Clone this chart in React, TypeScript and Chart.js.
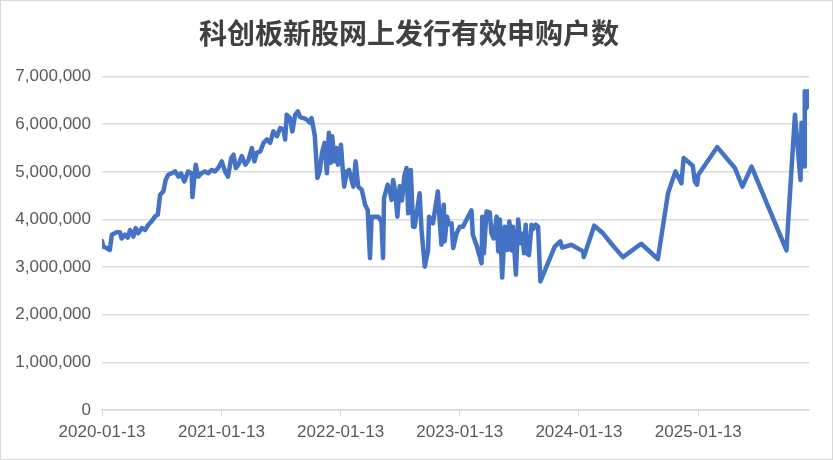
import React, { useEffect, useRef } from "react";
import { Chart, registerables } from "chart.js";

Chart.register(...registerables);

const TITLE = "科创板新股网上发行有效申购户数";

const DATES: string[] = [
  "2020-01-13","2020-01-17","2020-01-27","2020-02-06","2020-02-12","2020-02-27","2020-03-08","2020-03-13","2020-03-23","2020-04-01",
  "2020-04-08","2020-04-18","2020-04-25","2020-05-03","2020-05-14","2020-05-24","2020-06-03","2020-06-13","2020-06-23","2020-07-02",
  "2020-07-06","2020-07-09","2020-07-19","2020-07-26","2020-08-03","2020-08-13","2020-08-24","2020-09-03","2020-09-11","2020-09-21",
  "2020-10-03","2020-10-14","2020-10-16","2020-10-26","2020-11-03","2020-11-13","2020-11-23","2020-12-03","2020-12-14","2020-12-24",
  "2021-01-03","2021-01-14","2021-01-24","2021-02-02","2021-02-12","2021-02-19","2021-02-26","2021-03-06","2021-03-16","2021-03-27",
  "2021-04-06","2021-04-16","2021-04-24","2021-05-01","2021-05-12","2021-05-22","2021-06-01","2021-06-11","2021-06-21","2021-07-02",
  "2021-07-12","2021-07-22","2021-07-27","2021-08-01","2021-08-11","2021-08-18","2021-08-27","2021-09-04","2021-09-11","2021-09-21",
  "2021-10-01","2021-10-11","2021-10-16","2021-10-21","2021-10-26","2021-11-03","2021-11-10","2021-11-17","2021-11-25","2021-12-02",
  "2021-12-08","2021-12-14","2021-12-18","2021-12-26","2021-12-31","2022-01-05","2022-01-14","2022-01-19","2022-01-24","2022-02-01",
  "2022-02-08","2022-02-14","2022-02-21","2022-02-28","2022-03-08","2022-03-19","2022-03-29","2022-04-06","2022-04-13","2022-04-18",
  "2022-04-23","2022-05-08","2022-05-18","2022-05-23","2022-05-26","2022-06-06","2022-06-13","2022-06-18","2022-06-23","2022-06-30",
  "2022-07-06","2022-07-13","2022-07-20","2022-07-27","2022-08-03","2022-08-08","2022-08-16","2022-08-23","2022-08-28","2022-09-12",
  "2022-09-18","2022-09-28","2022-10-08","2022-10-11","2022-10-18","2022-10-23","2022-11-07","2022-11-13","2022-11-18","2022-11-25",
  "2022-11-28","2022-12-05","2022-12-11","2022-12-19","2022-12-24","2023-01-03","2023-01-13","2023-01-23","2023-02-03","2023-02-18",
  "2023-02-22","2023-03-05","2023-03-21","2023-03-23","2023-03-28","2023-04-05","2023-04-15","2023-04-20","2023-04-27","2023-05-06",
  "2023-05-11","2023-05-16","2023-05-23","2023-05-31","2023-06-07","2023-06-14","2023-06-20","2023-06-25","2023-07-04","2023-07-11",
  "2023-07-18","2023-07-24","2023-07-29","2023-08-03","2023-08-07","2023-08-13","2023-08-21","2023-08-26","2023-09-03","2023-09-10",
  "2023-09-17","2023-10-31","2023-11-17","2023-11-23","2023-12-21","2024-01-26","2024-01-28","2024-02-29","2024-03-27","2024-04-24",
  "2024-05-27","2024-07-22","2024-09-11","2024-10-12","2024-11-04","2024-11-22","2024-11-29","2024-12-27","2025-01-02","2025-01-09",
  "2025-01-13","2025-03-12","2025-05-05","2025-05-28","2025-06-25","2025-10-10","2025-10-13","2025-11-05","2025-11-22","2025-11-25",
  "2025-12-03","2025-12-05","2025-12-10","2025-12-15","2025-12-18"
];

const VALUES: number[] = [
  3550000,3430000,3400000,3360000,3680000,3730000,3730000,3600000,3680000,3620000,
  3780000,3640000,3820000,3710000,3820000,3780000,3890000,3960000,4060000,4100000,
  4340000,4520000,4590000,4830000,4940000,4970000,5010000,4900000,4970000,4800000,
  5010000,4970000,4470000,5150000,4900000,4970000,5010000,4970000,5040000,5010000,
  5080000,5220000,5010000,4900000,5290000,5360000,5080000,5150000,5330000,5150000,
  5250000,5500000,5220000,5400000,5430000,5610000,5680000,5610000,5850000,5750000,
  5920000,5890000,5680000,6200000,6130000,5850000,6200000,6270000,6150000,6130000,
  6100000,6030000,6130000,5950000,5750000,4870000,5010000,5400000,5610000,4970000,
  5820000,5190000,5750000,5220000,5500000,5150000,5570000,5100000,4690000,5010000,
  5040000,4870000,4690000,5220000,4690000,4620000,4310000,4200000,3190000,4060000,
  4060000,4060000,3960000,3190000,4450000,4730000,4600000,4410000,4830000,4550000,
  4060000,4700000,4400000,4900000,5080000,4130000,5040000,3850000,3850000,4550000,
  3780000,3010000,3360000,4060000,4000000,3920000,4590000,3920000,3470000,4310000,
  3540000,4060000,3900000,3920000,3400000,3700000,3850000,3850000,4000000,4190000,
  3680000,3470000,3080000,4060000,3290000,4170000,4150000,3710000,3600000,4060000,
  3330000,4000000,2780000,3850000,3360000,3960000,3350000,3850000,2840000,4000000,
  3500000,3700000,3290000,3890000,3290000,3250000,3890000,3800000,3890000,3850000,
  2700000,3430000,3540000,3410000,3470000,3330000,3210000,3870000,3710000,3470000,
  3210000,3490000,3170000,4550000,5010000,4760000,5290000,5130000,4800000,4730000,
  4940000,5520000,5080000,4690000,5110000,3350000,3710000,6200000,4830000,6030000,
  5110000,6690000,6340000,6690000,6380000
];

const TICK_DATES: string[] = ["2020-01-13", "2021-01-13", "2022-01-13", "2023-01-13", "2024-01-13", "2025-01-13"];

const Y_MIN = 0;
const Y_MAX = 7000000;
const Y_STEP = 1000000;

const BASE = Date.UTC(2020, 0, 13);
function toDay(s: string): number {
  const [y, m, d] = s.split("-").map(Number);
  return (Date.UTC(y, m - 1, d) - BASE) / 86400000;
}

export default function App() {
  const ref = useRef<HTMLCanvasElement | null>(null);

  useEffect(() => {
    if (!ref.current) return;
    const points = DATES.map((d, i) => ({ x: toDay(d), y: VALUES[i] }));
    const tickFont = { family: "'Liberation Sans', Arial, sans-serif", size: 17 };
    const chart = new Chart(ref.current, {
      type: "line",
      data: {
        datasets: [
          {
            data: points,
            borderColor: "#4472C4",
            backgroundColor: "#4472C4",
            borderWidth: 4.5,
            pointRadius: 0,
            tension: 0,
            borderJoinStyle: "round",
            borderCapStyle: "round",
          },
        ],
      },
      options: {
        animation: false,
        responsive: false,
        maintainAspectRatio: false,
        layout: { padding: { left: 8, right: 23, top: 0, bottom: 0 } },
        plugins: {
          legend: { display: false },
          tooltip: { enabled: false },
          title: {
            display: true,
            text: TITLE,
            color: "#404040",
            font: { family: "'Noto Sans CJK SC', sans-serif", size: 28, weight: "bold" },
            padding: { top: 16, bottom: 26 },
          },
        },
        scales: {
          x: {
            type: "linear",
            min: toDay(DATES[0]),
            max: toDay(DATES[DATES.length - 1]),
            afterBuildTicks: (s: any) => {
              s.ticks = TICK_DATES.map((d) => ({ value: toDay(d) }));
            },
            afterFit: (s: any) => {
              s.height = 49;
            },
            ticks: {
              autoSkip: false,
              maxRotation: 0,
              color: "#595959",
              font: tickFont,
              padding: 6,
              callback: (_v: any, i: number) => TICK_DATES[i],
            },
            grid: {
              display: true,
              drawOnChartArea: false,
              drawTicks: true,
              tickLength: 6,
              color: "#d9d9d9",
            },
            border: { display: true, color: "#d9d9d9", width: 1.5 },
          },
          y: {
            min: Y_MIN,
            max: Y_MAX,
            afterFit: (s: any) => {
              s.width = 93;
            },
            ticks: {
              stepSize: Y_STEP,
              color: "#595959",
              font: tickFont,
              padding: 11,
              callback: (v: any) => Number(v).toLocaleString("en-US"),
            },
            grid: { color: "#d9d9d9", drawTicks: false, lineWidth: 1.5 },
            border: { display: false },
          },
        },
      },
    });
    return () => chart.destroy();
  }, []);

  return (
    <div
      style={{
        position: "absolute",
        left: 0,
        top: 0,
        width: 833,
        height: 460,
        boxSizing: "border-box",
        border: "1px solid #d9d9d9",
        background: "#fff",
      }}
    >
      <canvas ref={ref} width={831} height={458} style={{ display: "block" }} />
    </div>
  );
}
